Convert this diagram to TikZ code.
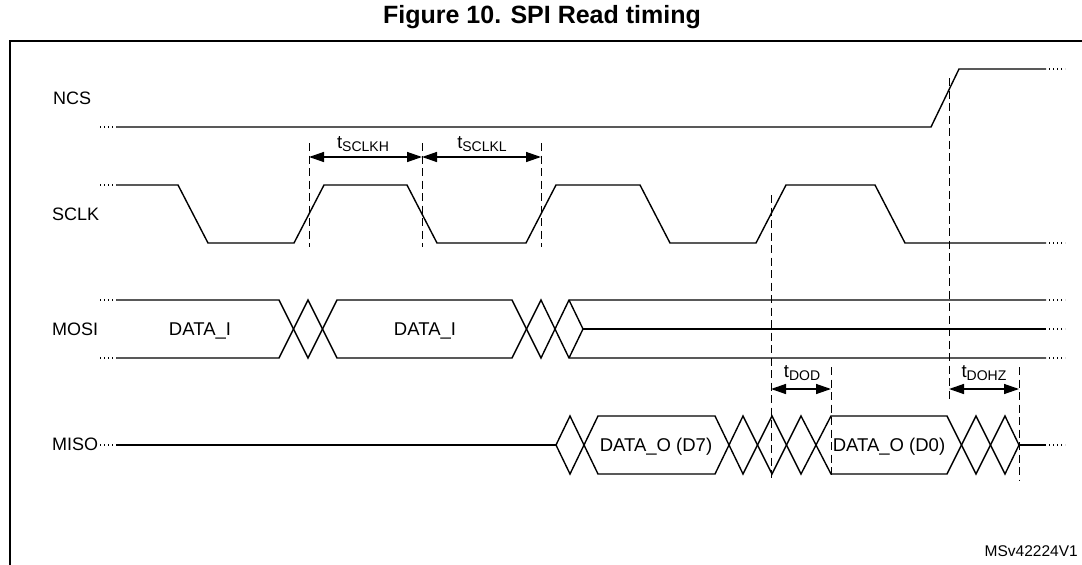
\documentclass[tikz,border=0pt]{standalone}
\usepackage{fontspec}
\setmainfont{Liberation Sans}
\usetikzlibrary{arrows.meta}

\tikzset{
	wave/.style={line width=1.4pt, line join=miter},
	dots/.style={line width=1.4pt, dash pattern=on 1.4pt off 2.6pt},
	guide/.style={line width=1pt, dash pattern=on 8pt off 4.5pt},
	span/.style={line width=1.4pt, {Triangle[length=15pt,width=10pt]}-{Triangle[length=15pt,width=10pt]}},
	sig/.style={anchor=west, inner sep=0pt, text height=13pt, text depth=0pt, font=\fontsize{18}{20}\selectfont},
	busname/.style={inner sep=0pt, text height=13pt, text depth=0pt, font=\fontsize{18.5}{20}\selectfont},
	tlabel/.style={anchor=base, inner sep=0pt, font=\fontsize{18.5}{20}\selectfont},
}
\newcommand{\tsig}[1]{t\raisebox{-0.35ex}{\fontsize{14}{15}\selectfont #1}}

\begin{document}
\begin{tikzpicture}[x=1pt, y=-1pt]
	\useasboundingbox (0,0) rectangle (1082,565);
	\node[font=\fontsize{25}{28}\selectfont\bfseries] (title) at (542,17) {Figure 10. SPI Read timing};
	\draw[line width=2.4pt] (10,575) -- (10,41) -- (1090,41);

	% signal names
	\node[sig] (ncs) at (53,98) {NCS};
	\node[sig] (sclk) at (52,214) {SCLK};
	\node[sig] (mosi) at (52,329) {MOSI};
	\node[sig] (miso) at (52,444) {MISO};

	% NCS
	\draw[dots] (100,127) -- (116,127);
	\draw[wave] (116,127) -- (931,127) -- (959,69) -- (1046,69);
	\draw[dots] (1049,69) -- (1065,69);

	% SCLK
	\draw[dots] (100,185) -- (116,185);
	\draw[wave] (116,185) -- (178,185) -- (208,243) -- (294,243) -- (324,185) -- (407,185) -- (437,243)
		-- (526,243) -- (556,185) -- (640,185) -- (670,243) -- (756,243) -- (786,185) -- (875,185)
		-- (905,243) -- (1046,243);
	\draw[dots] (1049,243) -- (1065,243);

	% MOSI
	\draw[dots] (100,300) -- (116,300);
	\draw[dots] (100,358) -- (116,358);
	\draw[wave] (116,300) -- (279,300) -- (308,358) -- (337,300) -- (512,300) -- (541,358) -- (569,300) -- (1046,300);
	\draw[wave] (116,358) -- (279,358) -- (308,300) -- (337,358) -- (512,358) -- (541,300) -- (569,358) -- (1046,358);
	\draw[wave] (569,300) -- (583,329) -- (569,358);
	\draw[wave] (583,329) -- (1046,329);
	\draw[dots] (1049,300) -- (1065,300);
	\draw[dots] (1049,329) -- (1065,329);
	\draw[dots] (1049,358) -- (1065,358);
	\node[busname] (di1) at (200,329) {DATA\_I};
	\node[busname] (di2) at (425,329) {DATA\_I};

	% MISO
	\draw[dots] (100,445) -- (116,445);
	\draw[wave] (116,445) -- (556,445);
	\draw[wave] (556,445) -- (570,416) -- (598,474) -- (715,474) -- (743,416) -- (772,474) -- (801,416) -- (831,474)
		-- (947,474) -- (976,416) -- (1005,474) -- (1019,445);
	\draw[wave] (556,445) -- (570,474) -- (598,416) -- (715,416) -- (743,474) -- (772,416) -- (801,474) -- (831,416)
		-- (947,416) -- (976,474) -- (1005,416) -- (1019,445);
	\draw[wave] (1019,445) -- (1046,445);
	\draw[dots] (1049,445) -- (1065,445);
	\node[busname] (d7) at (656,445) {DATA\_O (D7)};
	\node[busname] (d0) at (889,445) {DATA\_O (D0)};

	% guide lines
	\draw[guide] (309,143) -- (309,247);
	\draw[guide] (422,143) -- (422,247);
	\draw[guide] (541,143) -- (541,247);
	\draw[guide] (771,195) -- (771,478);
	\draw[guide] (831,367) -- (831,478);
	\draw[guide] (949,78) -- (949,401);
	\draw[guide] (1019,367) -- (1019,480);

	% timing spans
	\coordinate (hA) at (309,157);
	\coordinate (hB) at (422,157);
	\coordinate (hC) at (541,157);
	\coordinate (dA) at (771,389);
	\coordinate (dB) at (831,389);
	\coordinate (zA) at (949,389);
	\coordinate (zB) at (1019,389);
	\draw[span] (hA) -- (hB);
	\draw[span] (hB) -- (hC);
	\draw[span] (dA) -- (dB);
	\draw[span] (zA) -- (zB);
	\node[tlabel] (tsh) at (363,148) {\tsig{SCLKH}};
	\node[tlabel] (tsl) at (482,148) {\tsig{SCLKL}};
	\node[tlabel] (tdod) at (802,377) {\tsig{DOD}};
	\node[tlabel] (tdohz) at (984,377) {\tsig{DOHZ}};

	\node[anchor=base east, inner sep=0pt, font=\fontsize{15.5}{17}\selectfont] (ref) at (1078,556) {MSv42224V1};
\end{tikzpicture}
\end{document}
